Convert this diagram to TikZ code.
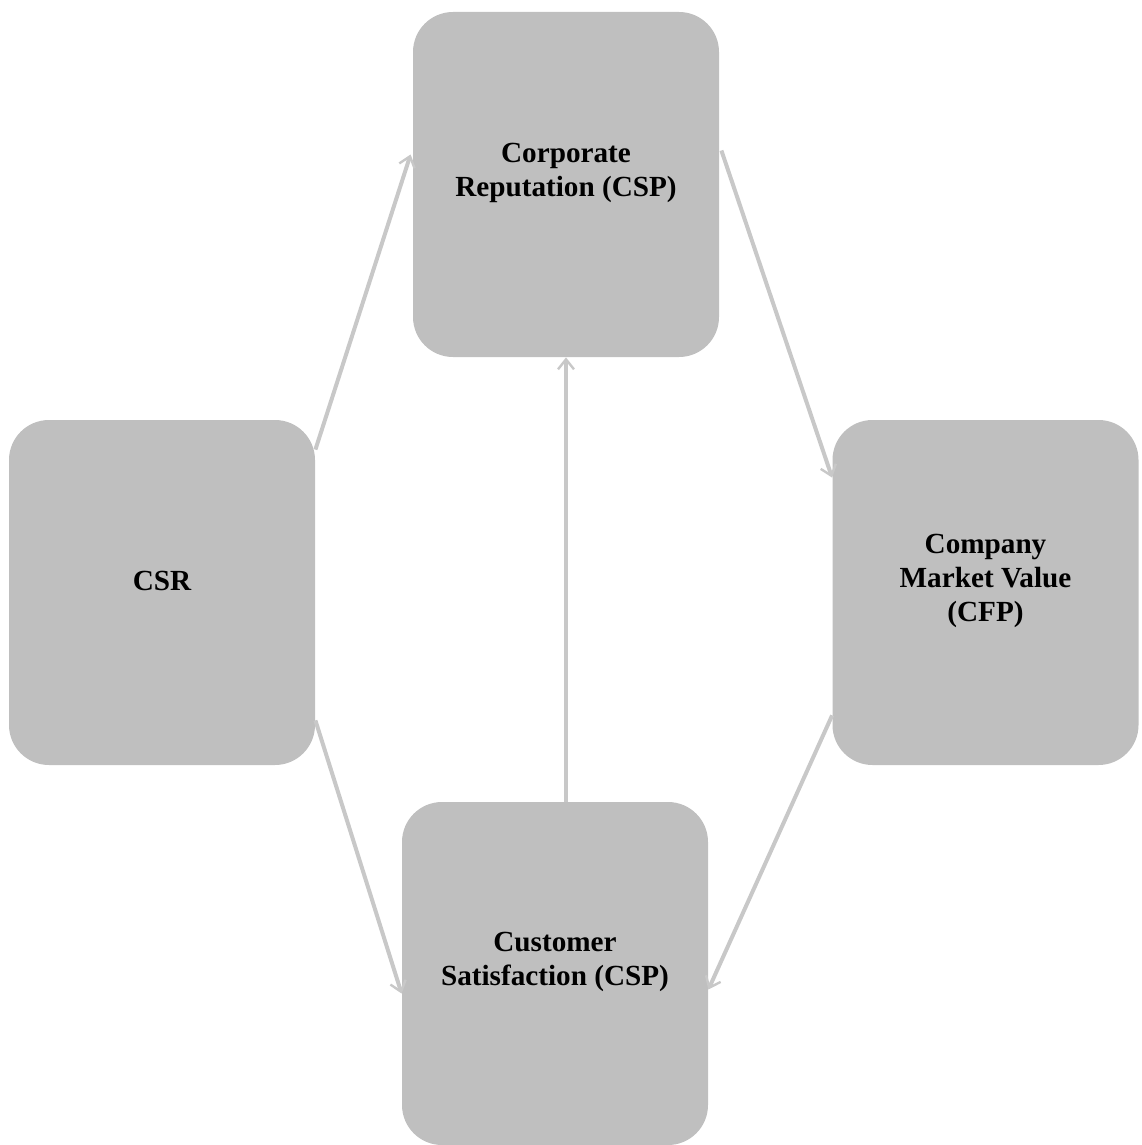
\documentclass[tikz,border=0pt]{standalone}
\usepackage{fontspec}
\setmainfont{Liberation Serif}
\usetikzlibrary{arrows.meta}
\definecolor{boxgray}{RGB}{191,191,191}
\definecolor{linkgray}{RGB}{200,200,200}
\begin{document}
\begin{tikzpicture}[x=0.5pt,y=-0.5pt,
  panel/.style={fill=boxgray,draw=none,rounded corners=20pt,inner sep=0pt,
    minimum width=153pt,minimum height=172.5pt},
  caption/.style={font=\fontsize{14.6}{17}\selectfont\bfseries,align=center,
    text=black,inner sep=0pt},
  link/.style={draw=linkgray,line width=2pt,
    -{Straight Barb[length=5pt,width=8pt,line width=1.2pt]}}]
  \useasboundingbox (0,0) rectangle (1141,1145);

  % boxes
  \node[panel] (rep) at (566,184.5) {};
  \node[panel] (csr) at (162,592.5) {};
  \node[panel] (cmv) at (985.5,592.5) {};
  \node[panel,minimum height=171.5pt] (sat) at (555,973.5) {};

  % captions
  \node[caption] (reptxt) at ([yshift=6pt]rep.center) {Corporate\\Reputation (CSP)};
  \node[caption] (csrtxt) at ([yshift=6pt]csr.center) {CSR};
  \node[caption] (cmvtxt) at ([yshift=6pt]cmv.center) {Company\\Market Value\\(CFP)};
  \node[caption] (sattxt) at ([yshift=6pt]sat.center) {Customer\\Satisfaction (CSP)};

  % relations
  \draw[link] ([yshift=-15pt]csr.north east) -- ([xshift=-1pt,yshift=15pt]rep.west);
  \draw[link] ([xshift=1pt,yshift=17pt]rep.east) -- ([yshift=-29pt]cmv.north west);
  \draw[link] ([yshift=22.5pt]csr.south east) -- ([yshift=-10pt]sat.west);
  \draw[link] ([yshift=25pt]cmv.south west) -- ([yshift=-8pt]sat.east);
  \draw[link] (sat.north -| rep.south) -- (rep.south);
\end{tikzpicture}
\end{document}
